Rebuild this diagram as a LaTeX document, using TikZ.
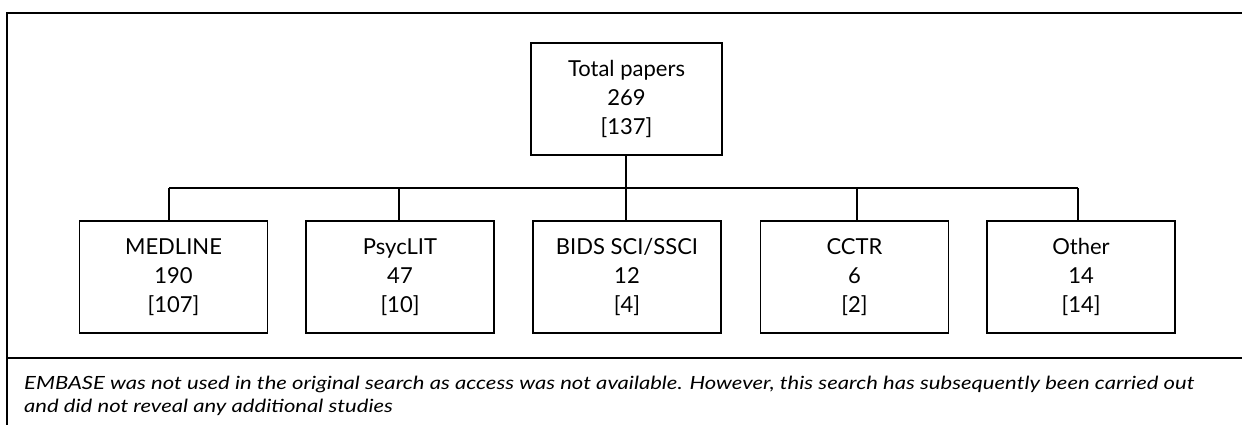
\documentclass[tikz,border=0pt]{standalone}
\usepackage{graphicx}
\usepackage{fontspec}
\setmainfont{Lato}
\newlength\noteonewd
\newcommand\noteone{EMBASE was not used in the original search as access was not available. However, this search has subsequently been carried out}
\newcommand\notetwo{and did not reveal any additional studies}
\newcommand\notefnt{\fontsize{18.2}{23.5}\selectfont\itshape}
\begin{document}
\settowidth\noteonewd{\notefnt\noteone}%
\pgfmathsetmacro\notesx{1170/\noteonewd}%
\begin{tikzpicture}[x=1pt,y=-1pt,
  box/.style={draw, line width=1.1pt, minimum width=188pt, minimum height=112pt,
    align=center, inner sep=0pt, font=\fontsize{22}{29}\selectfont},
  link/.style={line width=1.1pt}]
\useasboundingbox (0,0) rectangle (1242,424);
% frame
\draw[line width=1.8pt] (7,430) -- (7,13) -- (1250,13);
\draw[line width=1.1pt] (7,358) -- (1250,358);
% nodes
\node[box, minimum width=191pt] (top) at (626.5,99) {Total papers\\269\\{[137]}};
\node[box] (m1) at (173.5,277) {MEDLINE\\190\\{[107]}};
\node[box] (m2) at (400,277) {PsycLIT\\47\\{[10]}};
\node[box] (m3) at (627,277) {BIDS SCI/SSCI\\12\\{[4]}};
\node[box] (m4) at (854.5,277) {CCTR\\6\\{[2]}};
\node[box] (m5) at (1081,277) {Other\\14\\{[14]}};
% connectors
\coordinate (b1) at (169,188);
\coordinate (b2) at (399,188);
\coordinate (b3) at (626,188);
\coordinate (b4) at (857,188);
\coordinate (b5) at (1078,188);
\draw[link] (top.south -| b3) -- (b3);
\draw[link] (b1) -- (b5);
\draw[link] (b1) -- (b1 |- m1.north);
\draw[link] (b2) -- (b2 |- m2.north);
\draw[link] (b3) -- (b3 |- m3.north);
\draw[link] (b4) -- (b4 |- m4.north);
\draw[link] (b5) -- (b5 |- m5.north);
% footnote
\node[anchor=north west, inner sep=0pt, font=\notefnt] (note) at (24,372.5)
  {\scalebox{\notesx}[1]{\begin{tabular}{@{}l@{}}\noteone\\\notetwo\end{tabular}}};
\end{tikzpicture}
\end{document}
